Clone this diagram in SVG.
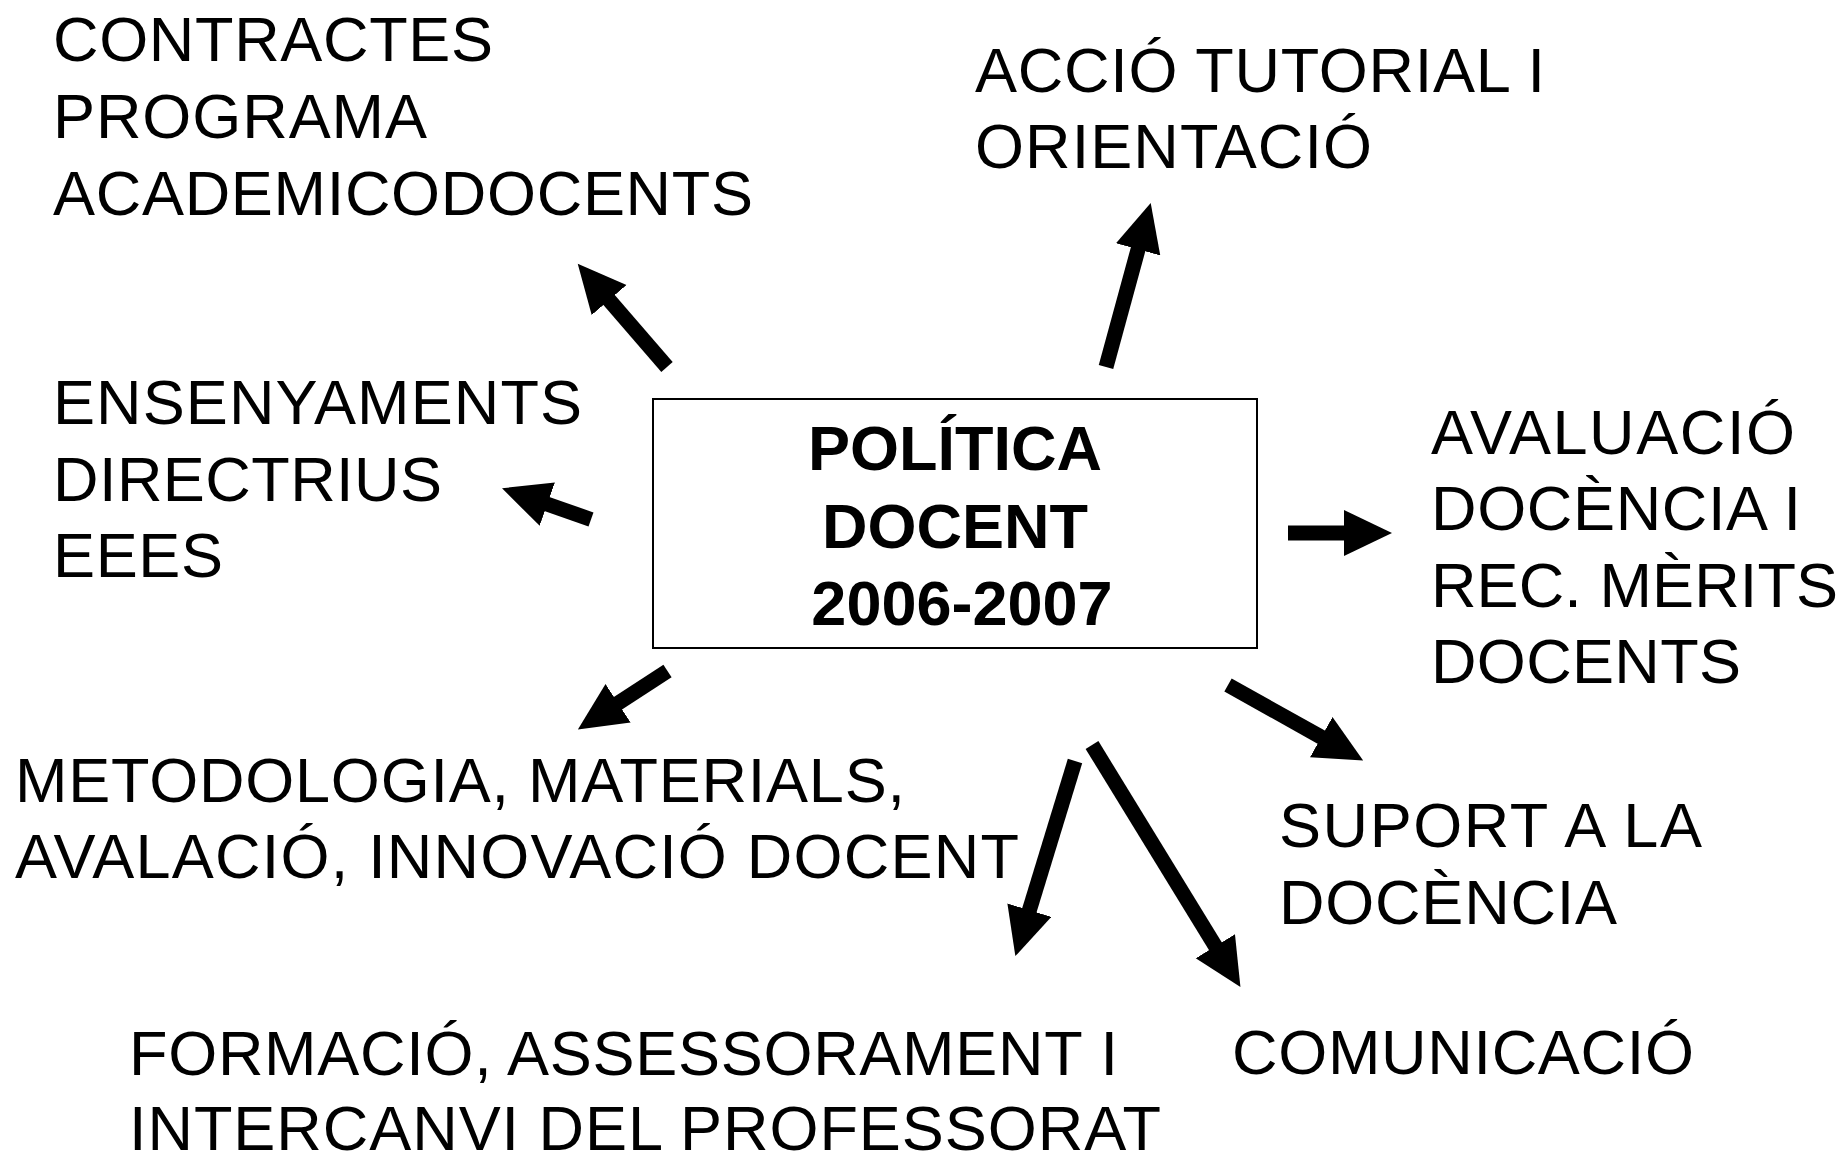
<svg xmlns="http://www.w3.org/2000/svg" width="1845" height="1154" viewBox="0 0 1845 1154">
<style>
.t{font-family:"Liberation Sans",Arial,sans-serif;font-size:63px;fill:#000}
.b{font-family:"Liberation Sans",Arial,sans-serif;font-size:63px;font-weight:bold;fill:#000;text-anchor:middle}
.c{stroke:#000;stroke-width:15;fill:none;marker-end:url(#ah)}
</style>
<defs>
<marker id="ah" markerUnits="userSpaceOnUse" markerWidth="50" markerHeight="48" refX="2" refY="23" orient="auto" viewBox="0 0 50 48">
<path d="M0,0 L48,23 L0,46 z" fill="#000"/>
</marker>
</defs>
<rect width="1845" height="1154" fill="#fff"/>
<g id="center">
<rect x="653" y="399" width="604" height="249" fill="#fff" stroke="#000" stroke-width="2"/>
<text class="b" x="955" y="470">POLÍTICA</text>
<text class="b" x="955" y="548">DOCENT</text>
<text class="b" x="962" y="625">2006-2007</text>
</g>
<g id="contractes">
<text class="t" x="53" y="61" textLength="440">CONTRACTES</text>
<text class="t" x="53" y="138" textLength="374">PROGRAMA</text>
<text class="t" x="53" y="215" textLength="700">ACADEMICODOCENTS</text>
</g>
<g id="accio">
<text class="t" x="975" y="92" textLength="570">ACCIÓ TUTORIAL I</text>
<text class="t" x="975" y="168" textLength="397">ORIENTACIÓ</text>
</g>
<g id="ensenyaments">
<text class="t" x="53" y="424" textLength="529">ENSENYAMENTS</text>
<text class="t" x="53" y="501" textLength="389">DIRECTRIUS</text>
<text class="t" x="53" y="577" textLength="170">EEES</text>
</g>
<g id="avaluacio">
<text class="t" x="1431" y="454" textLength="364">AVALUACIÓ</text>
<text class="t" x="1431" y="530" textLength="370">DOCÈNCIA I</text>
<text class="t" x="1431" y="607" textLength="407">REC. MÈRITS</text>
<text class="t" x="1431" y="683" textLength="310">DOCENTS</text>
</g>
<g id="suport">
<text class="t" x="1279" y="847" textLength="423">SUPORT A LA</text>
<text class="t" x="1279" y="924" textLength="338">DOCÈNCIA</text>
</g>
<g id="comunicacio">
<text class="t" x="1232" y="1074" textLength="462">COMUNICACIÓ</text>
</g>
<g id="metodologia">
<text class="t" x="15" y="802" textLength="890">METODOLOGIA, MATERIALS,</text>
<text class="t" x="15" y="878" textLength="1004">AVALACIÓ, INNOVACIÓ DOCENT</text>
</g>
<g id="formacio">
<text class="t" x="129" y="1075" textLength="989">FORMACIÓ, ASSESSORAMENT I</text>
<text class="t" x="129" y="1150" textLength="1032">INTERCANVI DEL PROFESSORAT</text>
</g>
<g id="connectors">
<line class="c" x1="667" y1="367" x2="607.8" y2="298.5"/>
<line class="c" x1="1106" y1="367" x2="1138.6" y2="247.4"/>
<line class="c" x1="591" y1="519.5" x2="545.4" y2="503.5"/>
<line class="c" x1="1288" y1="533" x2="1346" y2="533"/>
<line class="c" x1="667.5" y1="671" x2="616.4" y2="704.3"/>
<line class="c" x1="1075" y1="761" x2="1028.8" y2="912.1"/>
<line class="c" x1="1092" y1="745" x2="1216.4" y2="947.9"/>
<line class="c" x1="1228" y1="685" x2="1323" y2="738.1"/>
</g>
</svg>
